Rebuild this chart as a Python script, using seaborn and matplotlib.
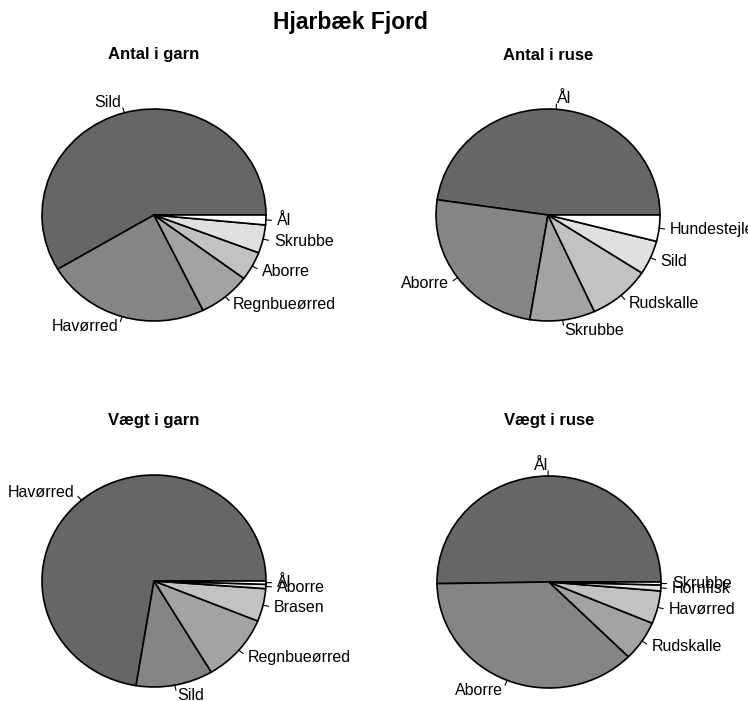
import matplotlib.pyplot as plt
import numpy as np
import seaborn as sns

# shares (%), in drawing order (counter-clockwise from 3 o'clock)
antal_garn_labels = ["Sild", "Havørred", "Regnbueørred", "Aborre", "Skrubbe", "Ål"]
antal_garn = [58.6, 23.7, 7.6, 4.4, 4.3, 1.5]

antal_ruse_labels = ["Ål", "Aborre", "Skrubbe", "Rudskalle", "Sild", "Hundestejle"]
antal_ruse = [47.7, 24.7, 9.4, 9.0, 5.2, 4.0]

vaegt_garn_labels = ["Havørred", "Sild", "Regnbueørred", "Brasen", "Aborre", "Ål"]
vaegt_garn = [72.4, 11.1, 10.3, 5.0, 0.65, 0.5]

vaegt_ruse_labels = ["Ål", "Aborre", "Rudskalle", "Havørred", "Hornfisk", "Skrubbe"]
vaegt_ruse = [50.25, 37.3, 6.1, 5.0, 0.9, 0.45]

sns.set_style("white")
plt.rcParams['font.family'] = ['Liberation Sans', 'DejaVu Sans']
plt.rcParams['text.color'] = 'black'

W, H = 748, 701
fig = plt.figure(figsize=(W / 100, H / 100), dpi=100)
grays = sns.blend_palette(["#666666", "#ffffff"], 6)

RX, RY = 112, 106  # pie radius in pixels


def pie_panel(title, labels, values, cx, cy, box):
    # box = (left, top, right, bottom) in pixels, cx/cy = pie centre in pixels
    l, t, r, b = box
    ax = fig.add_axes([l / W, (H - b) / H, (r - l) / W, (b - t) / H])
    wedges, _ = ax.pie(values, colors=grays, startangle=0, counterclock=True,
                       radius=1, wedgeprops=dict(edgecolor="black", linewidth=1.2))
    for w, lab in zip(wedges, labels):
        ang = np.deg2rad((w.theta1 + w.theta2) / 2)
        px, py = np.cos(ang), np.sin(ang)
        ax.plot([px, 1.05 * px], [py, 1.05 * py], color="black", lw=0.8,
                clip_on=False)
        ax.text(1.1 * px, 1.1 * py, lab, ha="left" if px >= 0 else "right",
                va="center", fontsize=11.5, color="black", clip_on=False)
    ax.set_aspect("auto")
    ax.set_xlim((l - cx) / RX, (r - cx) / RX)
    ax.set_ylim((cy - b) / RY, (cy - t) / RY)
    ax.axis("off")
    fig.text(cx / W, 1 - (t - 15) / H, title, ha="center", va="center",
             fontsize=12, fontweight="bold", color="black")


pie_panel("Antal i garn", antal_garn_labels, antal_garn, 154, 215, (0, 70, 374, 370))
pie_panel("Antal i ruse", antal_ruse_labels, antal_ruse, 548, 215, (374, 70, 748, 370))
pie_panel("Vægt i garn", vaegt_garn_labels, vaegt_garn, 154, 581, (0, 435, 374, 701))
pie_panel("Vægt i ruse", vaegt_ruse_labels, vaegt_ruse, 549, 582, (374, 435, 748, 701))

fig.text(350 / W, 1 - 23 / H, "Hjarbæk Fjord", ha="center", va="center",
         fontsize=16.5, fontweight="bold", color="black")

fig.savefig("out.png", dpi=100, facecolor="white")
